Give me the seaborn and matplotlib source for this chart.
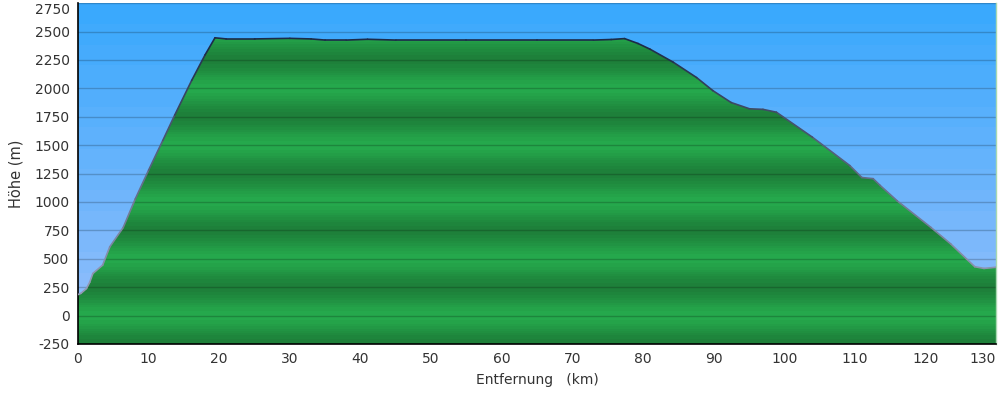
import numpy as np
import pandas as pd
import matplotlib
matplotlib.use("Agg")
import matplotlib.pyplot as plt
import seaborn as sns
from matplotlib.colors import LinearSegmentedColormap

# ---- data ----
dist_km = [0, 0.4, 1.2, 1.66, 2.1, 3.5, 4.5, 6.4, 8.1, 10.0, 12.0, 13.7, 16.1, 18.0, 19.4,
           21, 25, 30, 33, 35, 38, 41, 45, 55, 65, 73, 75.5, 77.4, 79.3, 81, 84.3, 87.6,
           89.9, 92.5, 95.1, 97, 98.9, 104, 109.3, 111, 112.6, 113.6, 116, 120.8, 123.6,
           125.8, 127, 128.3, 130]
elev_m = [185, 195, 238, 293, 370, 445, 605, 775, 1025, 1280, 1540, 1765, 2070, 2295, 2445,
          2435, 2435, 2440, 2435, 2425, 2425, 2432, 2425, 2425, 2425, 2425, 2430, 2438, 2395,
          2345, 2230, 2095, 1980, 1875, 1820, 1815, 1790, 1570, 1320, 1215, 1205, 1145, 1010,
          775, 630, 500, 430, 415, 425]
y_ticks = list(range(-250, 2751, 250))
x_ticks = list(range(0, 131, 10))
x_label = "Entfernung   (km)"
y_label = "Höhe (m)"

sns.set_style("white")
plt.rcParams['font.family'] = ['DejaVu Sans']
plt.rcParams['axes.unicode_minus'] = False

fig = plt.figure(figsize=(10, 3.94), dpi=100)
ax = fig.add_axes([0.078, 0.127, 0.918, 0.865])
xmin, xmax, ymin, ymax = 0, 130, -250, 2750
ax.set_xlim(xmin, xmax)
ax.set_ylim(ymin, ymax)

# sky gradient (stepped)
ys = np.linspace(ymax, ymin, 400)
t = (ymax - ys) / (ymax - 190)
t = np.clip(np.floor(t * 14) / 14, 0, 1)
top = np.array([58, 169, 253]) / 255
bot = np.array([143, 189, 251]) / 255
sky = top[None, :] * (1 - t[:, None]) + bot[None, :] * t[:, None]
ax.imshow(sky[:, None, :], extent=[xmin, xmax, ymin, ymax], aspect='auto', zorder=0,
          interpolation='nearest')

# green striped fill clipped to profile
yy = np.linspace(ymax, ymin, 600)
phase = np.cos((yy - 250) / 500 * 2 * np.pi)  # 1 at dark bands
phase = np.round((phase + 1) / 2 * 8) / 8
light = np.array([37, 168, 76]) / 255
dark = np.array([30, 128, 58]) / 255
green = light[None, :] * (1 - phase[:, None]) + dark[None, :] * phase[:, None]
poly = ax.fill_between(dist_km, elev_m, ymin, color='none', lw=0)
im = ax.imshow(green[:, None, :], extent=[xmin, xmax, ymin, ymax], aspect='auto', zorder=1,
               interpolation='nearest')
im.set_clip_path(poly.get_paths()[0], transform=ax.transData)

# gridlines
for v in y_ticks:
    ax.axhline(v, color='black', alpha=0.2, lw=1, zorder=2)

# profile edge with gradient colour (seaborn line segments)
seg_rows = []
for i in range(len(dist_km) - 1):
    h = (elev_m[i] + elev_m[i + 1]) / 2
    seg_rows.append(dict(x=dist_km[i], y=elev_m[i], seg=i, h=h))
    seg_rows.append(dict(x=dist_km[i + 1], y=elev_m[i + 1], seg=i, h=h))
seg_df = pd.DataFrame(seg_rows)
cmap = LinearSegmentedColormap.from_list("edge", ["#9298b4", "#5a6480", "#1c2a48"])
sns.lineplot(data=seg_df, x='x', y='y', hue='h', units='seg', estimator=None,
             palette=cmap, hue_norm=(300, 2400), legend=False, lw=1.2, ax=ax, zorder=3,
             sort=False)

# axes styling
ax.set_xticks(x_ticks)
ax.set_yticks(y_ticks)
ax.set_xticklabels([str(v) for v in x_ticks])
ax.set_yticklabels([str(v) for v in y_ticks])
ax.get_xticklabels()[-1].set_ha('right')
ax.get_yticklabels()[-1].set_va('top')
ax.tick_params(axis='both', direction='out', length=4, width=1.2, color='black',
               labelsize=10, labelcolor='#333333', pad=2)
ax.spines['top'].set_visible(False)
ax.spines['right'].set_color('#a8d8b0')
ax.spines['right'].set_linewidth(1)
ax.spines['left'].set_color('black')
ax.spines['bottom'].set_color('black')
ax.spines['left'].set_linewidth(1.2)
ax.spines['bottom'].set_linewidth(1.2)
ax.set_xlabel(x_label, fontsize=10, color='#333333', labelpad=5)
ax.set_ylabel(y_label, fontsize=10.5, color='#333333', labelpad=8)
ax.grid(False)

fig.savefig("out.png", dpi=100, facecolor='white')
